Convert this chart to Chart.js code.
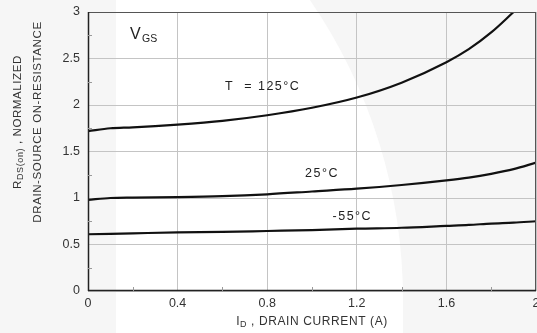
<!DOCTYPE html>
<html>
<head>
<meta charset="utf-8">
<script src="https://cdn.jsdelivr.net/npm/chart.js@4/dist/chart.umd.min.js"></script>
<style>
  html, body { margin: 0; padding: 0; background: #f6f6f6; }
  #wrap { width: 537px; height: 333px; position: relative; }
</style>
</head>
<body>
<div id="wrap"><canvas id="c" width="537" height="333"></canvas></div>
<script>
// Drain current (A) sample points
const current = [0, 0.1, 0.2, 0.4, 0.6, 0.8, 1.0, 1.2, 1.4, 1.6, 1.7, 1.8, 1.9, 2.0];
// Normalized RDS(on) at each junction temperature
const rds125 = [1.72, 1.75, 1.76, 1.79, 1.83, 1.89, 1.97, 2.08, 2.24, 2.46, 2.60, 2.78, 3.0, null];
const rds25  = [0.98, 1.00, 1.005, 1.01, 1.02, 1.04, 1.07, 1.10, 1.14, 1.19, 1.22, 1.26, 1.31, 1.38];
const rdsM55 = [0.61, 0.615, 0.62, 0.63, 0.635, 0.645, 0.655, 0.67, 0.68, 0.70, 0.71, 0.725, 0.735, 0.75];
// Axis ticks
const xTicks = [0, 0.4, 0.8, 1.2, 1.6, 2];
const yTicks = [0, 0.5, 1, 1.5, 2, 2.5, 3];
const curveLabels = ['T  = 125\u00B0C', '25\u00B0C', '-55\u00B0C'];

const FONT = '"Liberation Sans", Arial, sans-serif';

function pts(ys) {
  return current.map((x, i) => ({ x: x, y: ys[i] })).filter(p => p.y !== null);
}

function drawSub(ctx, parts, x, y, align, size) {
  // parts: [text, isSub]
  const big = size || 12, small = Math.round(big * 0.78);
  ctx.save();
  let total = 0;
  const widths = parts.map(p => {
    ctx.font = (p[1] ? small : big) + 'px ' + FONT;
    const w = ctx.measureText(p[0]).width;
    total += w;
    return w;
  });
  let cx = align === 'center' ? x - total / 2 : x;
  parts.forEach((p, i) => {
    ctx.font = (p[1] ? small : big) + 'px ' + FONT;
    ctx.textAlign = 'left';
    ctx.textBaseline = 'middle';
    ctx.fillText(p[0], cx, y + (p[1] ? 3 : 0));
    cx += widths[i];
  });
  ctx.restore();
}

const decor = {
  id: 'decor',
  beforeDraw(chart) {
    const ctx = chart.ctx;
    ctx.save();
    ctx.fillStyle = '#f6f6f6';
    ctx.fillRect(0, 0, chart.width, chart.height);
    // soft white backdrop panel
    ctx.fillStyle = '#ffffff';
    ctx.beginPath();
    ctx.moveTo(116, 0);
    ctx.lineTo(310, 0);
    const cx = -127, cy = 300, r = 530;
    const a0 = Math.atan2(0 - cy, 310 - cx);
    ctx.arc(cx, cy, r, a0, 0, false);
    ctx.lineTo(403, chart.height);
    ctx.lineTo(116, chart.height);
    ctx.closePath();
    ctx.fill();
    ctx.restore();
  },
  afterDraw(chart) {
    const ctx = chart.ctx;
    const xs = chart.scales.x, ys = chart.scales.y;
    const a = chart.chartArea;
    ctx.save();
    // frame
    ctx.strokeStyle = '#555';
    ctx.lineWidth = 1;
    ctx.beginPath();
    ctx.moveTo(a.left, a.top + 0.5); ctx.lineTo(a.right, a.top + 0.5);
    ctx.moveTo(a.right - 0.5, a.top); ctx.lineTo(a.right - 0.5, a.bottom);
    ctx.stroke();
    ctx.strokeStyle = '#222';
    ctx.lineWidth = 1.5;
    ctx.beginPath();
    ctx.moveTo(a.left + 0.5, a.top); ctx.lineTo(a.left + 0.5, a.bottom);
    ctx.moveTo(a.left, a.bottom - 0.5); ctx.lineTo(a.right, a.bottom - 0.5);
    ctx.stroke();
    // minor ticks
    ctx.strokeStyle = '#999';
    ctx.lineWidth = 1;
    ctx.beginPath();
    for (let v = 0.2; v < 2; v += 0.4) {
      const px = Math.round(xs.getPixelForValue(v)) + 0.5;
      ctx.moveTo(px, a.bottom); ctx.lineTo(px, a.bottom - 4);
    }
    for (let v = 0.25; v < 3; v += 0.5) {
      const py = Math.round(ys.getPixelForValue(v)) + 0.5;
      ctx.moveTo(a.left, py); ctx.lineTo(a.left + 4, py);
    }
    ctx.stroke();

    // curve labels
    ctx.fillStyle = '#222';
    ctx.font = '12.5px ' + FONT;
    ctx.letterSpacing = '1.5px';
    ctx.textAlign = 'center';
    ctx.textBaseline = 'middle';
    ctx.fillText(curveLabels[0], xs.getPixelForValue(0.78), ys.getPixelForValue(2.2));
    ctx.fillText(curveLabels[1], xs.getPixelForValue(1.045), ys.getPixelForValue(1.26));
    ctx.fillText(curveLabels[2], xs.getPixelForValue(1.18), ys.getPixelForValue(0.8));
    ctx.letterSpacing = '0px';
    // VGS
    ctx.textAlign = 'left';
    ctx.font = '16px ' + FONT;
    const vx = xs.getPixelForValue(0.188), vy = ys.getPixelForValue(2.76);
    ctx.fillText('V', vx, vy);
    ctx.font = '10.5px ' + FONT;
    ctx.fillText('GS', vx + 12, vy + 5);

    // x axis title
    ctx.fillStyle = '#333';
    ctx.letterSpacing = '0.6px';
    drawSub(ctx, [['I', false], ['D', true], [' , DRAIN CURRENT (A)', false]], 312, 322, 'center', 12);
    // y axis title (rotated, two lines)
    ctx.save();
    ctx.translate(18, 122);
    ctx.rotate(-Math.PI / 2);
    drawSub(ctx, [['R', false], ['DS(on)', true], [' , NORMALIZED', false]], 0, 0, 'center', 11.5);
    ctx.restore();
    ctx.save();
    ctx.translate(38, 122);
    ctx.rotate(-Math.PI / 2);
    drawSub(ctx, [['DRAIN-SOURCE ON-RESISTANCE', false]], 0, 0, 'center', 11.5);
    ctx.restore();
    ctx.letterSpacing = '0px';
    ctx.restore();
  }
};

const lineStyle = {
  borderColor: '#111',
  borderWidth: 2.2,
  pointRadius: 0,
  fill: false,
  cubicInterpolationMode: 'monotone'
};

new Chart(document.getElementById('c'), {
  type: 'line',
  data: {
    datasets: [
      Object.assign({ label: '125', data: pts(rds125) }, lineStyle),
      Object.assign({ label: '25', data: pts(rds25) }, lineStyle),
      Object.assign({ label: '-55', data: pts(rdsM55) }, lineStyle)
    ]
  },
  options: {
    responsive: false,
    animation: false,
    devicePixelRatio: 1,
    layout: { padding: { top: 12, right: 1, left: 0, bottom: 0 } },
    plugins: { legend: { display: false }, tooltip: { enabled: false } },
    scales: {
      x: {
        type: 'linear', min: 0, max: 2,
        afterBuildTicks(s) { s.ticks = xTicks.map(v => ({ value: v })); },
        afterFit(s) { s.height = 42; s.paddingLeft = 0; s.paddingRight = 0; },
        ticks: {
          color: '#333', padding: 5,
          font: { family: FONT, size: 12.5 },
          callback: v => String(v)
        },
        grid: { color: '#c4c4c4', lineWidth: 1, drawTicks: false },
        border: { display: false }
      },
      y: {
        type: 'linear', min: 0, max: 3,
        afterBuildTicks(s) { s.ticks = yTicks.map(v => ({ value: v })); },
        afterFit(s) { s.width = 88; s.paddingTop = 0; s.paddingBottom = 0; },
        ticks: {
          color: '#333', padding: 8,
          font: { family: FONT, size: 12.5 },
          callback: v => String(v)
        },
        grid: { color: '#c4c4c4', lineWidth: 1, drawTicks: false },
        border: { display: false }
      }
    }
  },
  plugins: [decor]
});
</script>
</body>
</html>
